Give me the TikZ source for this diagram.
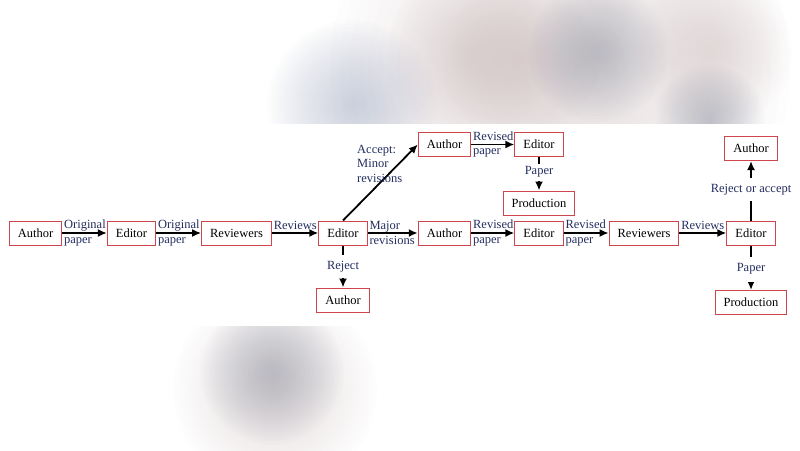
\documentclass[tikz,border=0pt]{standalone}
\usepackage{fontspec}
\setmainfont{Liberation Serif}
\usepackage{xcolor}
\usetikzlibrary{arrows.meta}
\definecolor{boxred}{RGB}{205,70,75}
\definecolor{lblblue}{RGB}{35,45,95}
\definecolor{blobblue}{rgb}{0.62,0.65,0.74}
\definecolor{blobgray}{rgb}{0.58,0.6,0.66}
\definecolor{blobpink}{rgb}{0.8,0.74,0.74}
% soft blob: x, y, radius, colour
\newcommand{\blob}[4]{\foreach \k in {1,...,24} \fill[#4, fill opacity=0.028] (#1,#2) circle ({#3*\k/24});}

\begin{document}
\begin{tikzpicture}[x=1pt,y=-1pt,
  box/.style={draw=boxred, line width=1pt, minimum height=24pt, inner xsep=8.5pt, font=\fontsize{12.5}{14}\selectfont},
  lbl/.style={text=lblblue, align=left, inner sep=1pt, font=\fontsize{12.5}{14.5}\selectfont},
  gaplbl/.style={lbl, fill=white, inner ysep=#1},
  gaplbl/.default=6pt,
  flow/.style={line width=1.8pt, -{Latex[length=9pt,width=8pt]}}]
\useasboundingbox (0,0) rectangle (800,450);
% blurred backdrop
\begin{scope}
\clip (0,0) rectangle (800,123);
\blob{560}{70}{230}{blobpink}
\blob{470}{55}{85}{blobpink}
\blob{520}{60}{80}{blobpink}
\blob{712}{50}{80}{blobpink}
\blob{352}{105}{85}{blobblue}
\blob{598}{52}{70}{blobgray}
\blob{710}{120}{55}{blobgray}
\end{scope}
\begin{scope}
\clip (0,326) rectangle (800,450);
\blob{275}{390}{102}{blobpink}
\blob{272}{372}{72}{blobgray}
\end{scope}
% boxes
\node[box] (a1) at (35.5,233) {Author};
\node[box] (e1) at (131.5,233) {Editor};
\node[box] (r1) at (236.5,233) {Reviewers};
\node[box] (e2) at (343,233) {Editor};
\node[box] (a5) at (343,300) {Author};
\node[box] (a2) at (444.5,144.5) {Author};
\node[box] (e3) at (539,144.5) {Editor};
\node[box] (p1) at (539,203) {Production};
\node[box] (a3) at (444.5,233) {Author};
\node[box] (e4) at (539,233) {Editor};
\node[box] (r2) at (644,233) {Reviewers};
\node[box] (e5) at (751,233) {Editor};
\node[box] (a4) at (751,148.5) {Author};
\node[box] (p2) at (751,302.5) {Production};
% main row
\draw[flow] (a1) -- (e1) node[lbl, pos=0, anchor=west] {Original\\paper};
\draw[flow] (e1) -- (r1) node[lbl, pos=0, anchor=west] {Original\\paper};
\draw[flow] (r1) -- (e2) node[lbl, pos=0, anchor=south west, yshift=1pt] {Reviews};
\draw[flow] (e2) -- (a3) node[lbl, pos=0, anchor=west] {Major\\revisions};
\draw[flow] (a3) -- (e4) node[lbl, pos=0, anchor=west] {Revised\\paper};
\draw[flow] (e4) -- (r2) node[lbl, pos=0, anchor=west] {Revised\\paper};
\draw[flow] (r2) -- (e5) node[lbl, pos=0, anchor=south west, yshift=1pt] {Reviews};
% minor revisions
\draw[flow] (e2.north) -- (a2.west);
\node[lbl, anchor=north west] (acc) at (356,144) {Accept:\\Minor\\revisions};
\draw[flow] (a2) -- (e3) node[lbl, pos=0, anchor=west] {Revised\\paper};
\draw[flow] (e3) -- node[gaplbl=3pt, pos=0.45] {Paper} (p1);
% decisions
\draw[flow] (e2) -- node[gaplbl=6pt, pos=0.5] {Reject} (a5);
\draw[flow] (e5) -- node[gaplbl=6pt, pos=0.52] {Reject or accept} (a4);
\draw[flow] (e5) -- node[gaplbl=7pt, pos=0.53] {Paper} (p2);
\end{tikzpicture}
\end{document}
